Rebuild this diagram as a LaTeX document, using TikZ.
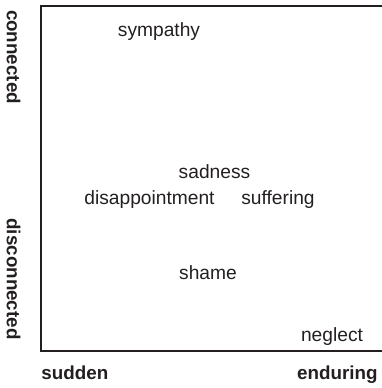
\documentclass[tikz,border=0pt]{standalone}
\usepackage{fontspec}
\setmainfont{Liberation Sans}
\usepackage{xcolor}
\usepackage{tikz}
\usetikzlibrary{positioning}

\definecolor{inkgray}{HTML}{231F20}

\begin{document}
\begin{tikzpicture}[
    x=0.5pt, y=-0.5pt,
    frame/.style={draw=inkgray, line width=1pt},
    emotion/.style={text=inkgray, inner sep=0pt, anchor=base, font=\fontsize{9.6}{11}\selectfont},
    axislabel/.style={text=inkgray, inner sep=0pt, font=\fontsize{9.4}{11}\selectfont\bfseries}
]
    \useasboundingbox (0,0) rectangle (382,388);

    % Frame
    \draw[frame] (41,6) rectangle (400,351);

    % Emotions
    \node[emotion] (sympathy) at (159,36) {sympathy};
    \node[emotion] (sadness) at (214.5,178) {sadness};
    \node[emotion] (disappointment) at (149.5,204) {disappointment};
    \node[emotion] (suffering) at (278,204) {suffering};
    \node[emotion] (shame) at (208,279) {shame};
    \node[emotion] (neglect) at (332,341) {neglect};

    % Axes
    \node[axislabel, anchor=base west] (sudden) at (41,379) {sudden};
    \node[axislabel, anchor=base east] (enduring) at (378,379) {enduring};
    \node[axislabel, rotate=-90] (connected) at (13.5,57) {connected};
    \node[axislabel, rotate=-90] (disconnected) at (13.5,279) {disconnected};
\end{tikzpicture}
\end{document}
